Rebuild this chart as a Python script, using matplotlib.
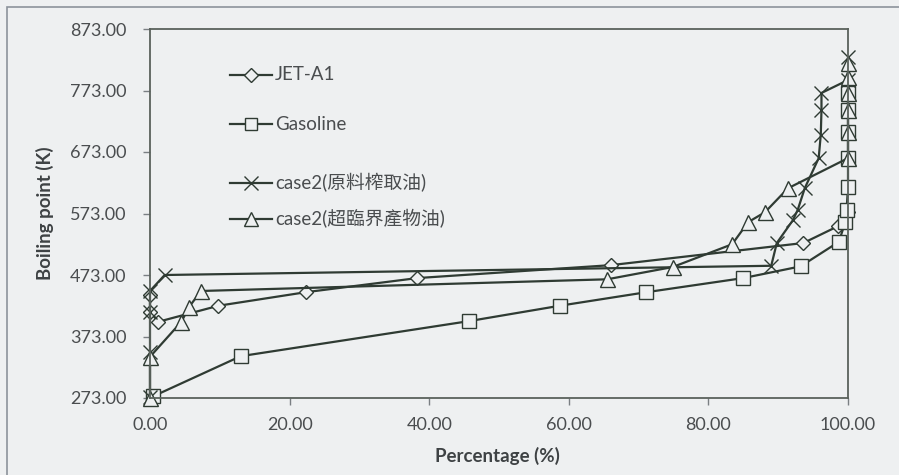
import matplotlib
matplotlib.use("Agg")
import matplotlib.pyplot as plt
from matplotlib.patches import Rectangle

plt.rcParams['font.family'] = ['Lato', 'Noto Sans CJK TC', 'DejaVu Sans']

# values (percentage, boiling point K)
jet_x = [0, 0, 1.2, 9.8, 22.3, 38.3, 66.0, 93.6, 98.5, 100]
jet_y = [440, 413, 397, 423, 445, 468, 489, 525, 552, 575]

gas_x = [0.5, 13.0, 45.7, 58.7, 71.1, 85.0, 93.2, 98.7, 99.6, 99.8, 100, 100, 100, 100, 100]
gas_y = [276, 341, 398, 423, 445, 468, 487, 527, 559, 579, 616, 663, 706, 741, 769]

ext_x = [0, 0, 0, 0, 2.1, 89.0, 89.8, 92.1, 92.8, 93.8, 95.8, 96.1, 96.2, 96.2, 100, 100]
ext_y = [275, 348, 413, 447, 473, 488, 525, 562, 579, 614, 663, 701, 741, 769, 790, 827]

sc_x = [0, 0, 4.5, 5.6, 7.3, 65.5, 74.9, 83.4, 85.7, 88.1, 91.4, 100, 100, 100, 100, 100, 100]
sc_y = [273, 340, 397, 421, 447, 466, 486, 523, 559, 575, 614, 663, 706, 741, 769, 795, 818]

labels = ["JET-A1", "Gasoline", "case2(原料榨取油)", "case2(超臨界產物油)"]
x_ticks = [0, 20, 40, 60, 80, 100]
y_ticks = [273, 373, 473, 573, 673, 773, 873]

bg = '#eef0f1'
ink = '#2f3b33'
txt = '#4a4d4f'

fig = plt.figure(figsize=(8.99, 4.75), dpi=100, facecolor=bg)
ax = fig.add_axes([150 / 899, 1 - 398 / 475, 698 / 899, 369 / 475])
ax.set_facecolor(bg)

# outer chart border (scan frame)
fig.patches.append(Rectangle((7 / 899, -0.05), 1.1, 1 - 7 / 475 + 0.05, transform=fig.transFigure,
                             fill=False, edgecolor='#8c939b', linewidth=1.2))

styles = [
    (jet_x, jet_y, 'D', 7.6),
    (gas_x, gas_y, 's', 9.8),
    (ext_x, ext_y, 'x', 10.5),
    (sc_x, sc_y, '^', 10.8),
]
for (xs, ys, m, ms), lab in zip(styles, labels):
    ax.plot(xs, ys, color=ink, linewidth=1.6, marker=m, markersize=ms,
            markerfacecolor=bg, markeredgecolor=ink, markeredgewidth=1.0,
            label=lab, clip_on=False)

ax.set_xlim(0, 100)
ax.set_ylim(273, 873)
ax.set_xticks(x_ticks)
ax.set_xticklabels([f"{v:.2f}" for v in x_ticks])
ax.set_yticks(y_ticks)
ax.set_yticklabels([f"{v:.2f}" for v in y_ticks])
ax.tick_params(axis='both', colors='#7a7f83', labelcolor=txt, labelsize=13,
               length=5, width=1)
ax.tick_params(axis='y', pad=12)
ax.tick_params(axis='x', pad=9)
for sp in ax.spines.values():
    sp.set_color('#5a625c')
    sp.set_linewidth(1.3)

ax.set_xlabel("Percentage (%)", fontsize=13.5, fontweight='bold', color='#3e4244')
ax.set_ylabel("Boiling point (K)", fontsize=13.5, fontweight='bold', color='#3e4244')
ax.xaxis.set_label_coords(347 / 698, -58 / 369)
ax.yaxis.set_label_coords(-105 / 698, 0.5)
ax.xaxis.label.set_va('center')
ax.yaxis.label.set_va('center')

# legend drawn by hand to keep the uneven spacing of the original
legend_rows = [75, 124, 183, 219]
for (xs, ys, m, ms), lab, ry in zip(styles, labels, legend_rows):
    yy = (398 - ry) / 369
    ax.plot([80 / 698, 122 / 698], [yy, yy], transform=ax.transAxes, color=ink,
            linewidth=1.6, clip_on=False)
    ax.plot([101 / 698], [yy], transform=ax.transAxes, marker=m, markersize=ms * 0.9,
            markerfacecolor=bg, markeredgecolor=ink, markeredgewidth=1.0, clip_on=False)
    ax.text(125 / 698, yy, lab, transform=ax.transAxes, fontsize=13.5, color=txt,
            va='center', ha='left')

fig.savefig("out.png", dpi=100, facecolor=bg)
